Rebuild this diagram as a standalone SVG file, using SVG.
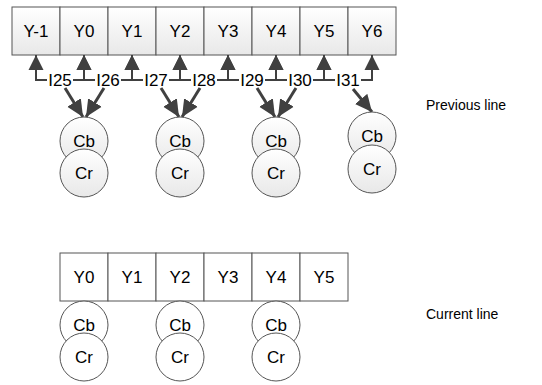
<svg xmlns="http://www.w3.org/2000/svg" width="542" height="385" viewBox="0 0 542 385">
<defs>
<linearGradient id="g" x1="0" y1="0" x2="0" y2="1">
<stop offset="0" stop-color="#ffffff"/>
<stop offset="1" stop-color="#e8e8e8"/>
</linearGradient>
<marker id="ah" markerUnits="userSpaceOnUse" markerWidth="16" markerHeight="16" viewBox="0 0 16 16" refX="15" refY="8" orient="auto">
<path d="M0,0.5 L15,8 L0,15.5 z" fill="#404040"/>
</marker>
<marker id="ah2" markerUnits="userSpaceOnUse" markerWidth="18" markerHeight="18" viewBox="0 0 18 18" refX="17" refY="9" orient="auto">
<path d="M0,1 L17,9 L0,17 z" fill="#404040"/>
</marker>
<style>
.bx{fill:url(#g);stroke:#555;stroke-width:1}
.bw{fill:#fff;stroke:#555;stroke-width:1}
.ci{fill:url(#g);stroke:#555;stroke-width:1}
.cw{fill:#fff;stroke:#555;stroke-width:1}
.t{font-family:"Liberation Sans",Arial,sans-serif;font-size:17px;fill:#000;text-anchor:middle}
.s{font-family:"Liberation Sans",Arial,sans-serif;font-size:14px;fill:#000}
.c{fill:none;stroke:#404040;stroke-width:2;marker-end:url(#ah)}
.d{fill:none;stroke:#404040;stroke-width:3;marker-end:url(#ah2)}
</style>
</defs>
<g id="prev-row">
<g id="pY-1"><rect class="bx" x="12" y="7" width="48" height="48"/><text class="t" x="36" y="37">Y-1</text></g>
<g id="pY0"><rect class="bx" x="60" y="7" width="48" height="48"/><text class="t" x="84" y="37">Y0</text></g>
<g id="pY1"><rect class="bx" x="108" y="7" width="48" height="48"/><text class="t" x="132" y="37">Y1</text></g>
<g id="pY2"><rect class="bx" x="156" y="7" width="48" height="48"/><text class="t" x="180" y="37">Y2</text></g>
<g id="pY3"><rect class="bx" x="204" y="7" width="48" height="48"/><text class="t" x="228" y="37">Y3</text></g>
<g id="pY4"><rect class="bx" x="252" y="7" width="48" height="48"/><text class="t" x="276" y="37">Y4</text></g>
<g id="pY5"><rect class="bx" x="300" y="7" width="48" height="48"/><text class="t" x="324" y="37">Y5</text></g>
<g id="pY6"><rect class="bx" x="348" y="7" width="48" height="48"/><text class="t" x="372" y="37">Y6</text></g>
</g>
<g id="labels">
<g id="I25"><text class="t" x="60" y="86">I25</text></g>
<g id="I26"><text class="t" x="108" y="86">I26</text></g>
<g id="I27"><text class="t" x="156" y="86">I27</text></g>
<g id="I28"><text class="t" x="204" y="86">I28</text></g>
<g id="I29"><text class="t" x="252" y="86">I29</text></g>
<g id="I30"><text class="t" x="300" y="86">I30</text></g>
<g id="I31"><text class="t" x="348" y="86">I31</text></g>
</g>
<g id="connectors">
<path class="c" d="M47,80 H36 V55"/>
<path class="c" d="M73,80 H84 V55"/>
<path class="c" d="M95,80 H84 V55"/>
<path class="c" d="M121,80 H132 V55"/>
<path class="c" d="M143,80 H132 V55"/>
<path class="c" d="M169,80 H180 V55"/>
<path class="c" d="M191,80 H180 V55"/>
<path class="c" d="M217,80 H228 V55"/>
<path class="c" d="M239,80 H228 V55"/>
<path class="c" d="M265,80 H276 V55"/>
<path class="c" d="M287,80 H276 V55"/>
<path class="c" d="M313,80 H324 V55"/>
<path class="c" d="M335,80 H324 V55"/>
<path class="c" d="M361,80 H372 V55"/>
<path class="d" d="M65,88 L83,117"/>
<path class="d" d="M104,88 L86,117"/>
<path class="d" d="M161,88 L179,117"/>
<path class="d" d="M200,88 L182,117"/>
<path class="d" d="M257,88 L275,117"/>
<path class="d" d="M296,88 L278,117"/>
<path class="d" d="M353,89 L372,112"/>
</g>
<g id="prev-chroma">
<g id="pCb0"><circle class="ci" cx="84" cy="141" r="24"/><text class="t" x="84" y="147">Cb</text></g>
<g id="pCr0"><circle class="ci" cx="84" cy="173" r="24"/><text class="t" x="84" y="179">Cr</text></g>
<g id="pCb2"><circle class="ci" cx="180" cy="141" r="24"/><text class="t" x="180" y="147">Cb</text></g>
<g id="pCr2"><circle class="ci" cx="180" cy="173" r="24"/><text class="t" x="180" y="179">Cr</text></g>
<g id="pCb4"><circle class="ci" cx="276" cy="141" r="24"/><text class="t" x="276" y="147">Cb</text></g>
<g id="pCr4"><circle class="ci" cx="276" cy="173" r="24"/><text class="t" x="276" y="179">Cr</text></g>
<g id="pCb6"><circle class="ci" cx="372" cy="136" r="24"/><text class="t" x="372" y="142">Cb</text></g>
<g id="pCr6"><circle class="ci" cx="372" cy="169" r="24"/><text class="t" x="372" y="175">Cr</text></g>
</g>
<g id="prev-label"><text class="s" x="426" y="110">Previous line</text></g>
<g id="cur-row">
<g id="cY0"><rect class="bw" x="60" y="253" width="48" height="48"/><text class="t" x="84" y="283">Y0</text></g>
<g id="cY1"><rect class="bw" x="108" y="253" width="48" height="48"/><text class="t" x="132" y="283">Y1</text></g>
<g id="cY2"><rect class="bw" x="156" y="253" width="48" height="48"/><text class="t" x="180" y="283">Y2</text></g>
<g id="cY3"><rect class="bw" x="204" y="253" width="48" height="48"/><text class="t" x="228" y="283">Y3</text></g>
<g id="cY4"><rect class="bw" x="252" y="253" width="48" height="48"/><text class="t" x="276" y="283">Y4</text></g>
<g id="cY5"><rect class="bw" x="300" y="253" width="48" height="48"/><text class="t" x="324" y="283">Y5</text></g>
</g>
<g id="cur-chroma">
<g id="cCb0"><circle class="cw" cx="84" cy="325" r="24"/><text class="t" x="84" y="331">Cb</text></g>
<g id="cCr0"><circle class="cw" cx="84" cy="357" r="24"/><text class="t" x="84" y="363">Cr</text></g>
<g id="cCb2"><circle class="cw" cx="180" cy="325" r="24"/><text class="t" x="180" y="331">Cb</text></g>
<g id="cCr2"><circle class="cw" cx="180" cy="357" r="24"/><text class="t" x="180" y="363">Cr</text></g>
<g id="cCb4"><circle class="cw" cx="276" cy="325" r="24"/><text class="t" x="276" y="331">Cb</text></g>
<g id="cCr4"><circle class="cw" cx="276" cy="357" r="24"/><text class="t" x="276" y="363">Cr</text></g>
</g>
<g id="cur-label"><text class="s" x="426" y="319">Current line</text></g>
</svg>
